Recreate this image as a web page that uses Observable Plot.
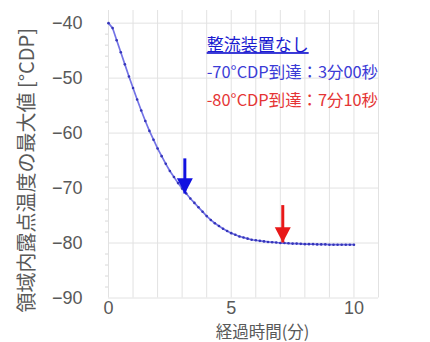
<!DOCTYPE html>
<html>
<head>
<meta charset="utf-8">
<script src="https://cdn.jsdelivr.net/npm/d3@7"></script>
<script src="https://cdn.jsdelivr.net/npm/@observablehq/plot@0.6"></script>
<style>
  html, body { margin: 0; padding: 0; background: #fff; }
</style>
</head>
<body>
<div id="chart"></div>
<script>
// elapsed time in seconds (one sample every 10 s)
const seconds = [0,10,20,30,40,50,60,70,80,90,100,110,120,130,140,150,160,170,180,190,200,210,220,230,240,250,260,270,280,290,300,310,320,330,340,350,360,370,380,390,400,410,420,430,440,450,460,470,480,490,500,510,520,530,540,550,560,570,580,590,600];
// maximum dew point in region [°CDP]
const dewPoint = [-40.0,-40.9,-43.1,-45.3,-47.5,-49.7,-51.8,-53.9,-55.9,-57.8,-59.6,-61.2,-62.8,-64.2,-65.6,-66.9,-68.0,-69.1,-70.1,-71.0,-71.9,-72.7,-73.5,-74.3,-75.1,-75.8,-76.4,-76.9,-77.4,-77.8,-78.2,-78.5,-78.8,-79.0,-79.2,-79.4,-79.5,-79.6,-79.7,-79.8,-79.85,-79.9,-80.0,-80.0,-80.05,-80.1,-80.1,-80.15,-80.2,-80.2,-80.2,-80.25,-80.25,-80.25,-80.3,-80.3,-80.3,-80.3,-80.3,-80.3,-80.3];

const xTickLabels = [0, 5, 10];
const xGrid = [0,1,2,3,4,5,6,7,8,9,10,11];
const yTickLabels = [-90, -80, -70, -60, -50, -40];
const yMinor = [-88,-86,-84,-82,-78,-76,-74,-72,-68,-66,-64,-62,-58,-56,-54,-52,-48,-46,-44,-42];

const xLabel = "経過時間(分)";
const yLabel = "領域内露点温度の最大値 [°CDP]";

const noteText = ["整流装置なし", "-70°CDP到達：3分00秒", "-80°CDP到達：7分10秒"];
const noteX = [4.0, 4.0, 4.0];
const noteY = [-44.1, -49.0, -54.2];
const noteSize = [17, 16.4, 16.4];
const noteColor = ["#1a1ad0", "#3b3bd6", "#e53535"];

const arrowX = [3.11, 7.1];
const arrowTop = [-64.6, -73.1];
const arrowTip = [-71.0, -79.9];
const arrowColor = ["#1010e0", "#e81818"];

const series = seconds.map((s, i) => ({t: s / 60, v: dewPoint[i]}));
const notes = noteText.map((text, i) => ({text, x: noteX[i], y: noteY[i], size: noteSize[i], color: noteColor[i]}));
const arrows = arrowX.map((x, i) => ({x, y1: arrowTop[i], y2: arrowTip[i], color: arrowColor[i]}));

// downward pointing filled triangle, tip at origin
const downHead = {
  draw(ctx, size) {
    const r = Math.sqrt(size / Math.PI);
    ctx.moveTo(0, 0);
    ctx.lineTo(-r, -r * 1.9);
    ctx.lineTo(r, -r * 1.9);
    ctx.closePath();
  }
};

const font = "'Noto Sans CJK JP', 'Noto Sans', sans-serif";
const tickFont = "'Liberation Sans', 'Noto Sans', sans-serif";

const chart = Plot.plot({
  width: 430,
  height: 342,
  marginLeft: 108,
  marginRight: 52,
  marginTop: 10,
  marginBottom: 44.5,
  style: {fontFamily: font, background: "#fff", overflow: "visible"},
  x: {domain: [0, 11]},
  y: {domain: [-90, -37.7]},
  marks: [
    Plot.gridX(xGrid, {stroke: "#e2e2e2", strokeOpacity: 1}),
    Plot.gridY(yTickLabels, {stroke: "#e2e2e2", strokeOpacity: 1}),
    Plot.axisY(yMinor, {tickSize: 3, text: null, stroke: "#d8d8d8", label: null}),
    Plot.axisX(xTickLabels, {tickSize: 0, tickPadding: 3, fontSize: 18, fontFamily: tickFont, fill: "#595959", label: null}),
    Plot.axisY(yTickLabels, {tickSize: 0, tickPadding: 26, fontSize: 18, fontFamily: tickFont, fill: "#595959", label: null}),
    Plot.text([xLabel], {frameAnchor: "bottom", dx: 19, dy: 34.5, fontSize: 16.5, fill: "#595959", textAnchor: "middle", lineAnchor: "middle"}),
    Plot.text([yLabel], {frameAnchor: "left", rotate: -90, dx: -81, dy: 16, fontSize: 20, fill: "#595959", textAnchor: "middle", lineAnchor: "middle"}),
    Plot.line(series, {x: "t", y: "v", stroke: "#7373e6", strokeWidth: 1.7}),
    Plot.dot(series, {x: "t", y: "v", r: 1.3, fill: "#3535b8", stroke: "none"}),
    Plot.link(arrows, {x1: "x", x2: "x", y1: "y1", y2: "y2", stroke: "color", strokeWidth: 3}),
    Plot.dot(arrows, {x: "x", y: "y2", fill: "color", stroke: "none", r: 8, symbol: downHead}),
    Plot.text(notes, {x: "x", y: "y", text: "text", fill: "color", fontSize: "size", textAnchor: "start", lineAnchor: "middle"})
  ]
});

d3.select(chart).selectAll("text").filter(function() { return this.textContent === noteText[0]; })
  .style("text-decoration", "underline");

document.getElementById("chart").appendChild(chart);
</script>
</body>
</html>
